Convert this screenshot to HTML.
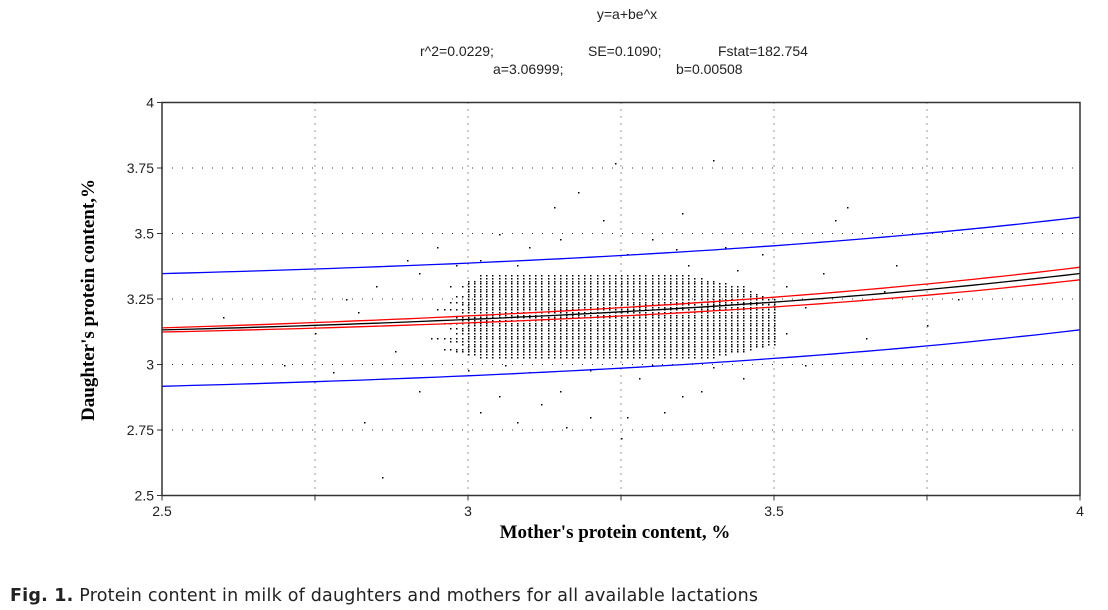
<!DOCTYPE html>
<html><head><meta charset="utf-8"><style>
body{margin:0;background:#fff;width:1108px;height:610px;overflow:hidden;font-family:"Liberation Sans",sans-serif}
svg{position:absolute;left:0;top:0}
</style></head><body>
<svg id="chart" width="1108" height="610" xmlns="http://www.w3.org/2000/svg">
<g font-family="Liberation Sans, sans-serif" font-size="14" fill="#222">
<text x="627" y="19" text-anchor="middle">y=a+be^x</text>
<text x="420" y="56">r^2=0.0229;</text>
<text x="588" y="56">SE=0.1090;</text>
<text x="718" y="56">Fstat=182.754</text>
<text x="493" y="74">a=3.06999;</text>
<text x="676" y="74">b=0.00508</text>
</g>
<g id="grid"></g><g id="pts"></g><g id="lines"></g><g id="axes"></g>
<text x="615" y="538" text-anchor="middle" font-family="Liberation Serif, serif" font-weight="bold" font-size="19">Mother's protein content, %</text>
<text transform="translate(94,300) rotate(-90)" text-anchor="middle" font-family="Liberation Serif, serif" font-weight="bold" font-size="19">Daughter's protein content,%</text>
<text x="10" y="601" font-size="17.5" font-family="DejaVu Sans, sans-serif" fill="#222" textLength="748" lengthAdjust="spacing"><tspan font-weight="bold">Fig. 1.</tspan> Protein content in milk of daughters and mothers for all available lactations</text>
</svg>
<script>
const xTicks=[2.5,2.75,3,3.25,3.5,3.75,4];
const xTickLabels=["2.5","","3","","3.5","","4"];
const yTicks=[2.5,2.75,3,3.25,3.5,3.75,4];
const yTickLabels=["2.5","2.75","3","3.25","3.5","3.75","4"];
const fitA=3.06999, fitB=0.00508;
const confHalf=[0.008,0.024];
const predHalf=[0.215,0.215];
// dense rows: [y, xStart, xEnd] points every 0.01
const denseRows=[[3.03,3.02,3.4],[3.04,3.0,3.42],[3.05,2.98,3.45],[3.06,2.96,3.46],[3.07,3.0,3.48],[3.08,2.99,3.5],[3.09,2.97,3.5],[3.1,2.95,3.5],[3.11,3.0,3.5],[3.12,2.98,3.5],[3.13,2.99,3.5],[3.14,2.97,3.5],[3.15,3.0,3.5],[3.16,2.96,3.5],[3.17,2.99,3.5],[3.18,2.98,3.5],[3.19,3.0,3.5],[3.2,2.99,3.5],[3.21,2.95,3.5],[3.22,3.0,3.5],[3.23,2.99,3.5],[3.24,2.97,3.5],[3.25,3.0,3.5],[3.26,2.98,3.48],[3.27,3.0,3.47],[3.28,3.0,3.46],[3.29,3.0,3.45],[3.3,2.99,3.45],[3.31,3.0,3.42],[3.32,3.0,3.4],[3.33,3.02,3.38],[3.34,3.02,3.36]];
const sparsePts=[[2.82,3.2],[2.85,3.3],[2.88,3.05],[2.9,3.4],[2.86,2.57],[2.83,2.78],[2.92,2.9],[2.95,3.45],[3.02,2.82],[3.05,3.5],[3.08,2.78],[3.1,3.45],[3.12,2.85],[3.15,3.48],[3.16,2.76],[3.2,2.8],[3.22,3.55],[3.24,3.77],[3.25,2.72],[3.28,2.95],[3.3,3.48],[3.32,2.82],[3.35,3.58],[3.38,2.9],[3.4,3.78],[3.42,3.45],[3.45,2.95],[3.48,3.42],[3.52,3.3],[3.55,3.0],[3.58,3.35],[3.6,3.55],[3.62,3.6],[3.65,3.1],[3.68,3.28],[3.7,3.38],[3.75,3.15],[3.8,3.25],[2.7,3.0],[2.75,3.12],[2.6,3.18],[2.78,2.97],[3.0,2.98],[3.06,3.0],[3.1,2.97],[3.2,2.98],[3.3,3.0],[3.4,2.99],[3.18,3.66],[3.14,3.6],[3.36,3.38],[3.44,3.36],[3.52,3.12],[3.55,3.22],[2.8,3.25],[2.92,3.35],[2.98,3.38],[3.02,3.4],[3.08,3.38],[3.26,3.42],[3.34,3.44],[3.46,3.06],[3.26,2.8],[3.05,2.88],[3.15,2.9],[3.35,2.88],[2.97,3.3],[2.94,3.1]];
const X=v=>162+(v-2.5)*612, Y=v=>495.5-(v-2.5)*262;
const NS="http://www.w3.org/2000/svg";
function mk(t,a,p){const e=document.createElementNS(NS,t);for(const k in a)e.setAttribute(k,a[k]);p.appendChild(e);return e;}
const grid=document.getElementById('grid'),pts=document.getElementById('pts'),lines=document.getElementById('lines'),axes=document.getElementById('axes');
xTicks.forEach((v,i)=>{if(i>0&&i<xTicks.length-1){const l=mk('line',{x1:X(v),x2:X(v),y1:Y(4),y2:Y(2.5),stroke:'#333','stroke-dasharray':'1 6'},grid);

}
const t=mk('line',{x1:X(v),x2:X(v),y1:Y(2.5),y2:Y(2.5)+5,stroke:'#333'},axes);


const tx=mk('text',{x:X(v),y:516,'text-anchor':'middle','font-size':14,fill:'#222'},axes);tx.textContent=xTickLabels[i];

});
yTicks.forEach((v,i)=>{if(i>0&&i<yTicks.length-1){const l=mk('line',{x1:X(2.5),x2:X(4),y1:Y(v),y2:Y(v),stroke:'#333','stroke-dasharray':'1 9'},grid);

}
const t=mk('line',{x1:X(2.5)-5,x2:X(2.5),y1:Y(v),y2:Y(v),stroke:'#333'},axes);


const tx=mk('text',{x:154,y:Y(v)+5,'text-anchor':'end','font-size':14,fill:'#222'},axes);tx.textContent=yTickLabels[i];

});
const frame=mk('rect',{x:X(2.5),y:Y(4),width:X(4)-X(2.5),height:Y(2.5)-Y(4),fill:'none',stroke:'#333','stroke-width':1.5},axes);


denseRows.forEach(r=>{for(let x=r[1];x<=r[2]+1e-9;x+=0.01){const d=mk('rect',{x:Math.round(X(x)),y:Math.round(Y(r[0])),width:1.5,height:1.5,fill:'#000'},pts);

}});
sparsePts.forEach(p=>{const d=mk('rect',{x:Math.round(X(p[0])),y:Math.round(Y(p[1])),width:1.5,height:1.5,fill:'#000'},pts);

});
function curve(off,h,color,name){let d='';for(let i=0;i<=60;i++){const x=2.5+1.5*i/60,f=i/60;const y=fitA+fitB*Math.exp(x)+off*(h[0]+(h[1]-h[0])*f);d+=(i?'L':'M')+X(x).toFixed(1)+','+Y(y).toFixed(1);}
const p=mk('path',{d:d,fill:'none',stroke:color,'stroke-width':1.3},lines);

}
curve(1,predHalf,'#0000ff','upper-prediction-band');
curve(-1,predHalf,'#0000ff','lower-prediction-band');
curve(1,confHalf,'#ff0000','upper-confidence-band');
curve(-1,confHalf,'#ff0000','lower-confidence-band');
curve(0,confHalf,'#000','fit-line');
</script>
</body></html>
